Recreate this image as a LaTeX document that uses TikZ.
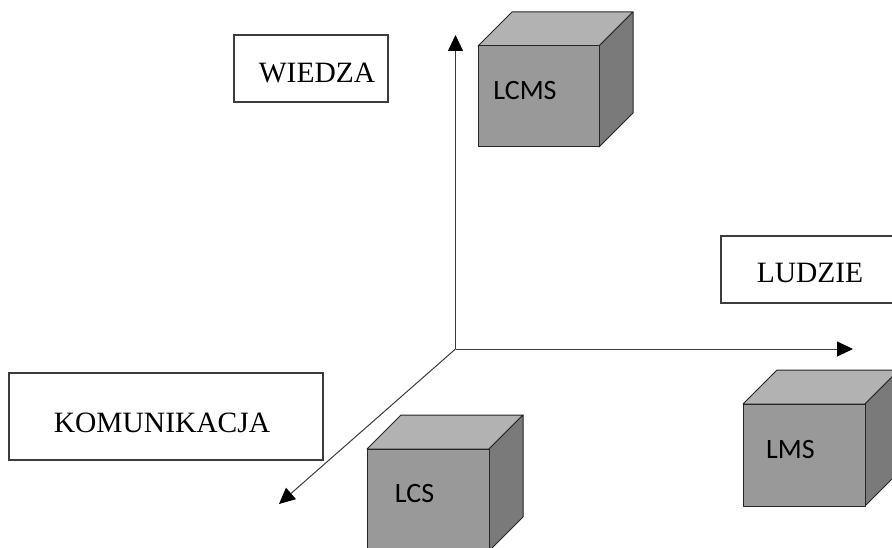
\documentclass[tikz,border=0pt]{standalone}
\usepackage{fontspec}
\setmainfont{Liberation Serif}
\newfontfamily\cubefont{Carlito}
\usetikzlibrary{arrows.meta}
\definecolor{cfront}{RGB}{153,153,153}
\definecolor{ctop}{RGB}{178,178,178}
\definecolor{cside}{RGB}{122,122,122}
\definecolor{cline}{RGB}{60,60,60}
\tikzset{
  boxline/.style={draw=cline, line width=1.2pt},
  boxtext/.style={inner sep=0pt, font=\fontsize{29.5}{32}\selectfont},
  cubetext/.style={inner sep=0pt, font=\cubefont\fontsize{28}{30}\selectfont},
  axis/.style={draw=cline, line width=1pt, -{Triangle[length=16pt,width=15pt,color=black]}},
  cubeedge/.style={draw=black!85, line width=1pt, line join=round},
}
% cube: #1 left x, #2 top y, #3 right x, #4 bottom y, #5 depth
\newcommand{\mycube}[5]{%
  \fill[ctop, cubeedge] (#1,#2) -- (#1+#5,#2-#5) -- (#3+#5,#2-#5) -- (#3,#2) -- cycle;
  \fill[cside, cubeedge] (#3,#2) -- (#3+#5,#2-#5) -- (#3+#5,#4-#5) -- (#3,#4) -- cycle;
  \fill[cfront, cubeedge] (#1,#2) rectangle (#3,#4);
}
\begin{document}
\begin{tikzpicture}[x=1pt,y=-1pt]
\useasboundingbox (0,0) rectangle (892,548);
\clip (0,0) rectangle (892,548);
\fill[white] (0,0) rectangle (892,548);

% axes
\coordinate (o) at (455.5,349);
\coordinate (up) at (455.5,35);
\coordinate (right) at (853,349);
\coordinate (dl) at (279,504);
\draw[axis] (o) -- (up);
\draw[axis] (o) -- (right);
\draw[axis] (o) -- (dl);

% label boxes
\draw[boxline] (234,35) rectangle (388,102);
\node[boxtext] (wiedza) at (317,73) {WIEDZA};
\draw[boxline] (721,236) rectangle (900,303);
\node[boxtext] (ludzie) at (810,273) {LUDZIE};
\draw[boxline] (9,373) rectangle (323,460);
\node[boxtext] (komunikacja) at (162,423) {KOMUNIKACJA};

% cubes
\mycube{478}{46}{599}{147}{34}
\node[cubetext] (lcms) at (525,91) {LCMS};
\mycube{367}{449}{489}{551}{34}
\node[cubetext] (lcs) at (414.5,494) {LCS};
\mycube{743}{404}{865}{506}{34}
\node[cubetext] (lms) at (790.5,450) {LMS};
\end{tikzpicture}
\end{document}
